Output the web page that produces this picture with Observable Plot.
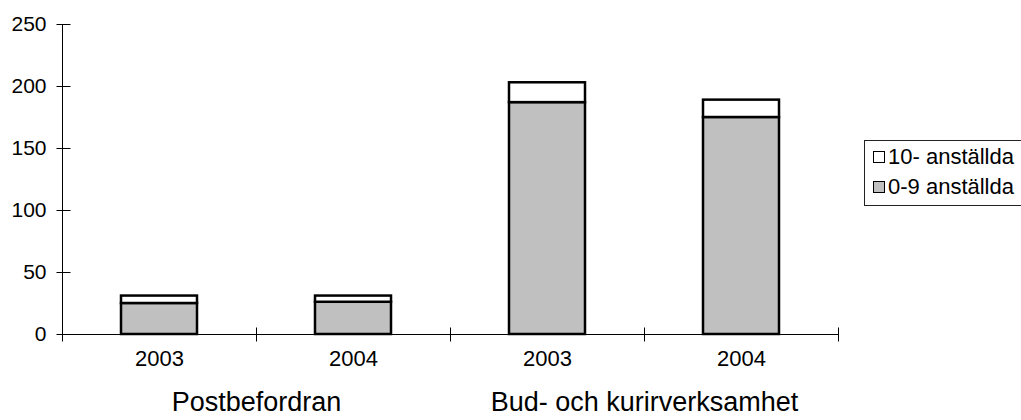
<!DOCTYPE html>
<html>
<head>
<meta charset="utf-8">
<script src="https://cdn.jsdelivr.net/npm/d3@7"></script>
<script src="https://cdn.jsdelivr.net/npm/@observablehq/plot@0.6"></script>
<style>
  html, body { margin: 0; padding: 0; background: #fff; overflow: hidden; }
  #wrap { position: relative; width: 1021px; height: 420px; font-family: "Liberation Sans", Arial, sans-serif; }
  #legend { position: absolute; left: 864px; top: 140px; width: 200px; height: 66px; border: 1px solid #222; box-sizing: border-box; background: #fff; }
  .item { position: absolute; left: 8px; display: flex; align-items: center; font-size: 22px; color: #000; white-space: nowrap; }
  .sw { width: 10px; height: 10px; border: 1.5px solid #000; margin-right: 3px; }
</style>
</head>
<body>
<div id="wrap"></div>
<script>
// Data
const groups = ["Postbefordran", "Bud- och kurirverksamhet"];
const years = ["2003", "2004", "2003", "2004"];
const barGroup = [0, 0, 1, 1];
const small = [25, 26, 187, 175];   // 0-9 anställda
const large = [6, 5, 16, 14];       // 10- anställda
const seriesNames = ["10- anställda", "0-9 anställda"];
const yTicks = [0, 50, 100, 150, 200, 250];

const seriesColors = {"0-9 anställda": "#c0c0c0", "10- anställda": "#ffffff"};

// Build stacked table
const rows = [];
years.forEach((yr, i) => {
  rows.push({i, series: "0-9 anställda", y1: 0, y2: small[i]});
  rows.push({i, series: "10- anställda", y1: small[i], y2: small[i] + large[i]});
});
const xTicks = d3.range(years.length + 1);
const yearRows = years.map((yr, i) => ({i, yr}));
const groupRows = groups.map((g, gi) => {
  const idx = barGroup.map((b, i) => b === gi ? i : -1).filter(i => i >= 0);
  return {g, center: (d3.min(idx) + d3.max(idx) + 1) / 2};
});

const vTick = {draw(ctx) { ctx.moveTo(0, -7); ctx.lineTo(0, 7); }};
const hTick = {draw(ctx) { ctx.moveTo(-6, 0); ctx.lineTo(8, 0); }};

const chart = Plot.plot({
  width: 1021,
  height: 420,
  marginLeft: 62,
  marginRight: 183,
  marginTop: 24,
  marginBottom: 86,
  style: {fontFamily: "'Liberation Sans', Arial, sans-serif", background: "#fff", color: "#000"},
  x: {type: "linear", domain: [0, years.length], axis: null},
  y: {domain: [0, 250], axis: null},
  marks: [
    Plot.rect(rows, {
      x1: d => d.i, x2: d => d.i + 1, y1: "y1", y2: "y2",
      insetLeft: 59, insetRight: 59,
      fill: d => seriesColors[d.series], stroke: "#000", strokeWidth: 2.5
    }),
    Plot.ruleX([0], {stroke: "#000", strokeWidth: 1}),
    Plot.ruleY([0], {stroke: "#000", strokeWidth: 1}),
    Plot.dot(xTicks, {x: d => d, y: 0, symbol: vTick, stroke: "#000", fill: "none", strokeWidth: 1}),
    Plot.dot(yTicks, {x: 0, y: d => d, symbol: hTick, stroke: "#000", fill: "none", strokeWidth: 1}),
    Plot.text(yTicks, {y: d => d, frameAnchor: "left", textAnchor: "end", dx: -16, text: d => String(d), fontSize: 21, fill: "#000"}),
    Plot.text(yearRows, {x: d => d.i + 0.5, frameAnchor: "bottom", dy: 31, text: "yr", fontSize: 22, fill: "#000"}),
    Plot.text(groupRows, {x: "center", frameAnchor: "bottom", dy: 76, text: "g", fontSize: 27, fill: "#000"})
  ]
});

const wrap = document.getElementById("wrap");
wrap.appendChild(chart);

const legend = document.createElement("div");
legend.id = "legend";
seriesNames.forEach((name, k) => {
  const item = document.createElement("div");
  item.className = "item";
  item.style.top = (k === 0 ? 3 : 33) + "px";
  const sw = document.createElement("span");
  sw.className = "sw";
  sw.style.background = seriesColors[name];
  const t = document.createElement("span");
  t.textContent = name;
  item.appendChild(sw);
  item.appendChild(t);
  legend.appendChild(item);
});
wrap.appendChild(legend);
</script>
</body>
</html>
